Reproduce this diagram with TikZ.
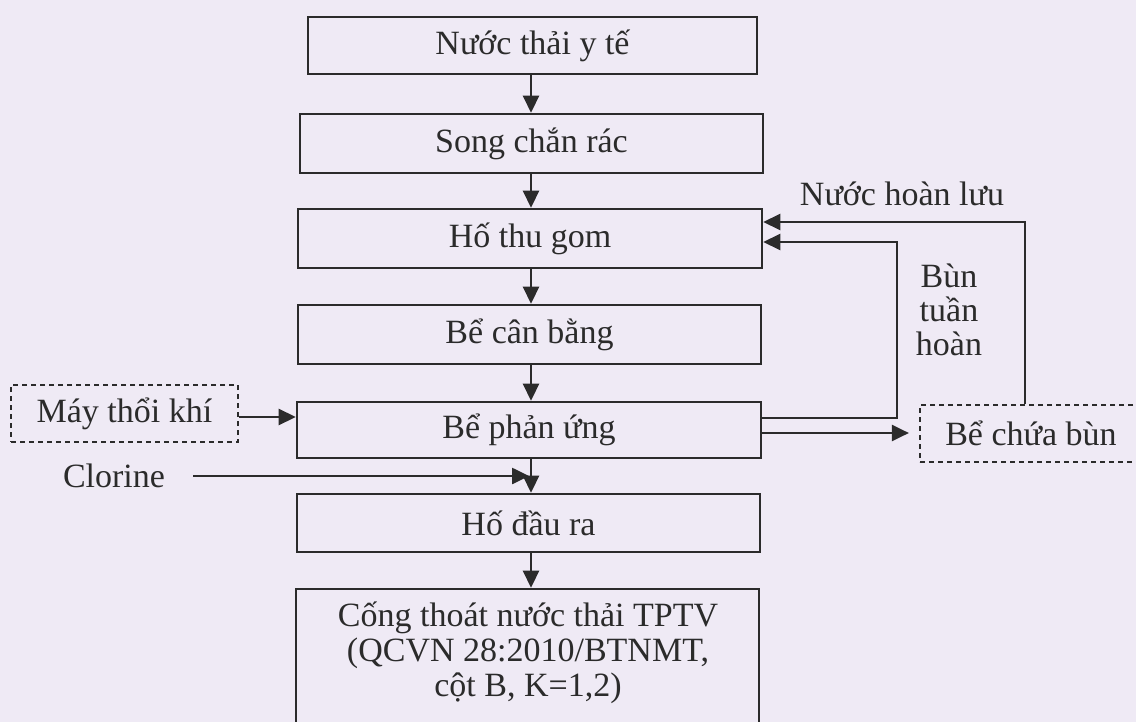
\documentclass[tikz,border=0pt]{standalone}
\usepackage{fontspec}
\setmainfont{Liberation Serif}
\usetikzlibrary{arrows.meta,calc}
\definecolor{bg}{HTML}{EFEAF5}
\definecolor{ink}{HTML}{2B2B2B}
\begin{document}
\begin{tikzpicture}[x=0.5pt,y=-0.5pt,
  txt/.style={font=\fontsize{17}{17}\selectfont, text=ink, inner sep=0pt},
  box/.style 2 args={draw=ink, line width=1.3pt, minimum width={#1*0.5pt}, minimum height={#2*0.5pt}, inner sep=0pt, font=\fontsize{17}{17}\selectfont, text=ink},
  dbox/.style 2 args={box={#1}{#2}, line width=1.1pt, dash pattern=on 2.5pt off 2pt},
  conn/.style={draw=ink, line width=1.3pt},
  arr/.style={conn, -{Triangle[length=8.5pt,width=8pt]}}]
\clip (0,0) rectangle (1136,722);
\fill[bg] (0,0) rectangle (1136,722);

\node[box={449}{57}] (b1) at (532.5,45.5) {Nước thải y tế};
\node[box={463}{59}] (b2) at (531.5,143.5) {Song chắn rác};
\node[box={464}{59}] (b3) at (530,238.5) {Hố thu gom};
\node[box={463}{59}] (b4) at (529.5,334.5) {Bể cân bằng};
\node[box={464}{56}] (b5) at (529,430) {Bể phản ứng};
\node[box={463}{58}] (b6) at (528.5,523) {Hố đầu ra};
\node[box={463}{152}] (b7) at (527.5,665) {};
\node[txt, align=center, font=\fontsize{17}{17.5}\selectfont] (t7) at (528,653) {Cống thoát nước thải TPTV\\(QCVN 28:2010/BTNMT,\\cột B, K=1,2)};

\node[dbox={227}{57}] (blow) at (124.5,413.5) {Máy thổi khí};
\node[dbox={222}{57}] (sludge) at (1031,433.5) {Bể chứa bùn};
\node[txt] (clor) at (114,476) {Clorine};
\node[txt] (nhl) at (902,194) {Nước hoàn lưu};
\node[txt, align=center] (btl) at (949,310) {Bùn\\tuần\\hoàn};

\coordinate (ax) at (531,0);
\coordinate (cs) at (193,476);
\coordinate (r1) at (897,0);
\coordinate (r2) at (1025,0);

\draw[arr] (b1.south -| ax) -- (b2.north -| ax);
\draw[arr] (b2.south -| ax) -- (b3.north -| ax);
\draw[arr] (b3.south -| ax) -- (b4.north -| ax);
\draw[arr] (b4.south -| ax) -- (b5.north -| ax);
\draw[arr] (b5.south -| ax) -- (b6.north -| ax);
\draw[arr] (b6.south -| ax) -- (b7.north -| ax);

\draw[arr] (blow.east |- 0,417) -- (b5.west |- 0,417);
\draw[arr, shorten >=1pt] (cs) -- (cs -| ax);

\draw[arr, shorten >=5pt] (b5.east |- 0,433) -- (sludge.west |- 0,433);
\draw[arr] (b5.east |- 0,418) -- (r1 |- 0,418) -- (r1 |- 0,242) -- (b3.east |- 0,242);
\draw[arr] (sludge.north -| r2) -- (r2 |- 0,222) -- (b3.east |- 0,222);
\end{tikzpicture}
\end{document}
